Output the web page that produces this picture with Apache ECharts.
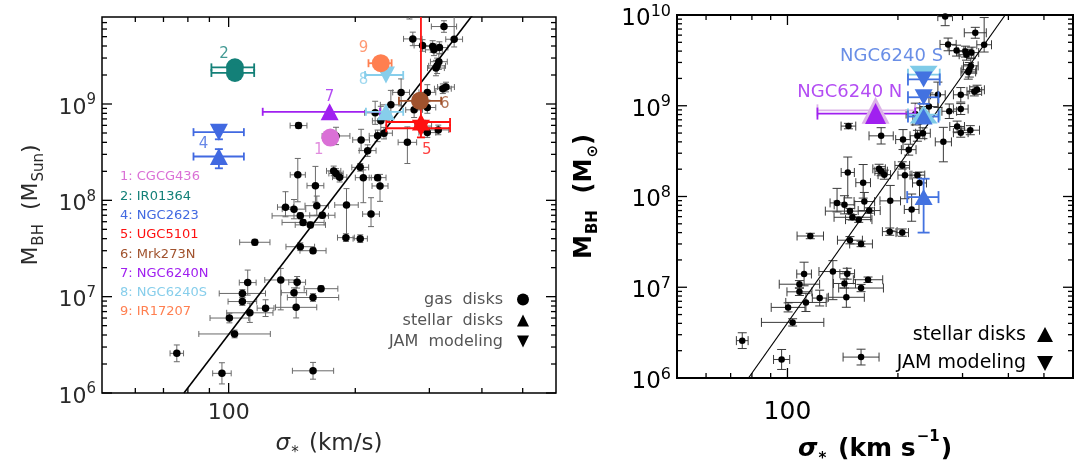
<!DOCTYPE html>
<html>
<head>
<meta charset="utf-8">
<script src="https://cdn.jsdelivr.net/npm/echarts@6.0.0/dist/echarts.min.js"></script>
<style>
html,body{margin:0;padding:0;background:#ffffff;}
#chart{width:1083px;height:472px;}
</style>
</head>
<body>
<div id="chart"></div>
<script>
// ---------------- data ----------------
// Comparison sample (drawn in both panels): sigma_* (km/s) and M_BH (Msun)
const sampleSigma = [75.3, 96.4, 158.7, 103.3, 100.4, 112.3, 122.4, 144.7, 107.8, 107.8,
  158.7, 143, 165.8, 111, 133, 145.5, 115.4, 148, 158.7, 190,
  205.5, 150.3, 156.4, 148, 167, 136.5, 143, 162, 190.6, 218,
  160.8, 146, 177.7, 180, 183.6, 209, 226, 229, 205.5, 214,
  206.5, 226, 234, 266, 146.6, 230, 223, 243, 276, 296.7,
  296.7, 315, 257, 296.7, 323, 328.6, 316, 313, 311, 274,
  289, 305.5, 317, 307.6, 343.6, 325, 269, 180, 290];
const sampleMass = [2.58e6, 1.6e6, 1.7e6, 4.1e6, 6.0e6, 6.8e6, 7.6e6, 7.75e6, 8.9e6, 1.08e7,
  9.8e6, 1.1e7, 1.21e7, 1.4e7, 1.49e7, 1.41e7, 3.67e7, 3.3e7, 3.0e7, 4.1e7,
  4.0e7, 5.9e7, 5.56e7, 6.9e7, 7.0e7, 8.5e7, 8.1e7, 8.8e7, 8.95e7, 7.2e7,
  1.42e8, 1.84e8, 2.02e8, 1.9e8, 1.74e8, 1.72e8, 1.72e8, 1.41e8, 2.2e8, 3.28e8,
  4.24e8, 4.67e8, 4.98e8, 4.0e8, 5.97e8, 6.7e8, 8.1e8, 9.8e8, 8.7e8, 9.2e8,
  5.05e8, 5.38e8, 1.32e9, 1.32e9, 1.44e9, 1.5e9, 2.75e9, 2.49e9, 2.36e9, 4.74e9,
  4.05e9, 3.95e9, 3.85e9, 3.65e9, 4.7e9, 6.37e9, 9.6e9, 4.66e8, 5.9e8];
// error sizes (dex)
const sampleSigmaErr = [0.016, 0.022, 0.049, 0.085, 0.046, 0.055, 0.02, 0.049, 0.034, 0.055,
  0.061, 0.03, 0.04, 0.02, 0.038, 0.02, 0.036, 0.034, 0.031, 0.02,
  0.017, 0.05, 0.036, 0.067, 0.03, 0.019, 0.028, 0.028, 0.028, 0.02,
  0.02, 0.018, 0.017, 0.017, 0.017, 0.019, 0.02, 0.019, 0.02, 0.02,
  0.02, 0.02, 0.02, 0.022, 0.02, 0.02, 0.025, 0.025, 0.02, 0.02,
  0.02, 0.025, 0.02, 0.02, 0.02, 0.02, 0.02, 0.02, 0.02, 0.022,
  0.02, 0.02, 0.02, 0.02, 0.02, 0.03, 0.02, 0.033, 0.02];
const sampleMassErrLo = [0.087, 0.11, 0.087, 0.04, 0.05, 0.1, 0.087, 0.11, 0.04, 0.04,
  0.04, 0.05, 0.03, 0.13, 0.31, 0.06, 0.03, 0.04, 0.03, 0.04,
  0.04, 0.03, 0.03, 0.03, 0.03, 0.1, 0.1, 0.1, 0.33, 0.13,
  0.17, 0.28, 0.05, 0.05, 0.05, 0.26, 0.03, 0.16, 0.04, 0.06,
  0.11, 0.06, 0.06, 0.22, 0.03, 0.15, 0.12, 0.15, 0.08, 0.06,
  0.05, 0.05, 0.14, 0.08, 0.05, 0.05, 0.08, 0.08, 0.08, 0.07,
  0.06, 0.06, 0.06, 0.06, 0.08, 0.06, 0.1, 0.09, 0.06];
const sampleMassErrHi = [0.087, 0.11, 0.087, 0.04, 0.05, 0.1, 0.087, 0.28, 0.04, 0.04,
  0.04, 0.05, 0.03, 0.13, 0.12, 0.06, 0.03, 0.04, 0.03, 0.04,
  0.04, 0.03, 0.03, 0.03, 0.03, 0.16, 0.1, 0.1, 0.17, 0.17,
  0.2, 0.17, 0.05, 0.05, 0.05, 0.08, 0.03, 0.12, 0.04, 0.06,
  0.11, 0.06, 0.06, 0.16, 0.03, 0.15, 0.12, 0.15, 0.08, 0.06,
  0.05, 0.05, 0.14, 0.08, 0.05, 0.05, 0.08, 0.08, 0.08, 0.07,
  0.06, 0.06, 0.06, 0.06, 0.3, 0.06, 0.12, 0.09, 0.06];

// M-sigma relation, end points
const fitSigma = [78.3, 392];
const fitMass = [1e6, 1e10];

// Left panel objects: [id, kind, sigma, M, sigmaLo, sigmaHi, Mlo, Mhi]
const leftMarkers = [
  [1, 'gas', 174.5, 4.48e8, 174.5, 174.5, 4.48e8, 4.48e8],
  [2, 'gas', 103.5, 2.4e9, 91, 115, 2.4e9, 2.4e9],
  [2, 'gas', 103.5, 2.1e9, 91, 115, 2.1e9, 2.1e9],
  [4, 'jam', 94.8, 5.1e8, 82.5, 108.7, 4.3e8, 5.9e8],
  [4, 'stellar', 94.8, 2.85e8, 82.5, 108.7, 2.15e8, 3.4e8],
  [5, 'stellar', 286.5, 6.5e8, 237, 336, 4.5e8, 1.5e10],
  [5, 'jam', 286.5, 5.6e8, 237, 336, 5.6e8, 5.6e8],
  [6, 'gas', 285, 1.08e9, 254, 320, 1.08e9, 1.08e9],
  [7, 'stellar', 173.8, 8.3e8, 120.5, 229, 8.3e8, 8.3e8],
  [8, 'jam', 236.6, 2.0e9, 211, 260, 2.0e9, 2.0e9],
  [8, 'stellar', 236.6, 8.3e8, 212, 260, 8.3e8, 8.3e8],
  [9, 'gas', 230, 2.65e9, 215, 244, 2.65e9, 2.65e9]
];
const leftObjectNames = ['1: CGCG436', '2: IR01364', '4: NGC2623', '5: UGC5101',
  '6: Mrk273N', '7: NGC6240N', '8: NGC6240S', '9: IR17207'];
const leftObjectIds = [1, 2, 4, 5, 6, 7, 8, 9];
// number labels next to the markers: [text, sigma, M]
const leftNumberLabels = [
  ['2', 97.5, 3.29e9], ['4', 87.1, 3.86e8], ['7', 173.8, 1.19e9], ['1', 163.7, 3.33e8],
  ['9', 209.2, 3.8e9], ['8', 209.2, 1.78e9], ['6', 326.6, 9.96e8], ['5', 295.8, 3.33e8]
];

// Right panel objects: [group, kind, sigma, M, sigmaLo, sigmaHi, Mlo, Mhi]
const rightMarkers = [
  ['Nhalo', 'stellar', 173.8, 8.9e8, 120.7, 223, 8.9e8, 8.9e8],
  ['N', 'stellar', 173.8, 8.2e8, 120.7, 223, 8.2e8, 8.2e8],
  ['Shalo', 'jam', 235, 2.2e9, 213, 260, 2.2e9, 2.2e9],
  ['S', 'jam', 235, 1.95e9, 213, 260, 1.95e9, 1.95e9],
  ['S', 'jam', 235, 1.24e9, 213, 258, 1.05e9, 1.45e9],
  ['Shalo', 'stellar', 235, 8.0e8, 213, 260, 8.0e8, 8.0e8],
  ['S', 'stellar', 235, 7.6e8, 213, 258, 7.6e8, 7.6e8],
  ['S', 'stellar', 235, 9.85e7, 212, 258, 4.0e7, 1.57e8]
];
const rightTextLabels = [['NGC6240 N', 147.9, 1.42e9, 'N'], ['NGC6240 S', 192.2, 3.5e9, 'S']];

// axes
const xRange = [50, 600];
const yRangeLeft = [1e6, 8e9];
const yRangeRight = [1e6, 1e10];
const xTickValues = [60, 70, 80, 90, 100, 200, 300, 400, 500];
const xMajorTicks = [100];
const yDecades = [1e6, 1e7, 1e8, 1e9, 1e10];
const yMinorSteps = [2, 3, 4, 5, 6, 7, 8, 9];

// ---------------- styling ----------------
const FONT = 'DejaVu Sans';
const objColor = {1: '#da70d6', 2: '#138078', 4: '#4169e1', 5: '#ff1010', 6: '#a0522d',
  7: '#a020f0', 8: '#87ceeb', 9: '#ff7f50'};
const rightColor = {N: '#a020f0', Nhalo: '#dcb4e8', S: '#4372e0', Shalo: '#7fcbe8'};
const rightColorKeys = ['N', 'Nhalo', 'S', 'Shalo'];
// marker sizes [w, h] for right-panel groups
const rightSize = {N: [21, 21], Nhalo: [28, 27], S: [18, 16], Shalo: [28, 18]};

function sampleRows() {
  return sampleSigma.map((s, i) => [s, sampleMass[i],
    s / Math.pow(10, sampleSigmaErr[i]), s * Math.pow(10, sampleSigmaErr[i]),
    sampleMass[i] / Math.pow(10, sampleMassErrLo[i]), sampleMass[i] * Math.pow(10, sampleMassErrHi[i]), 0]);
}

function makeErrRender(cap, lw, colorOf) {
  return function (params, api) {
    const x = api.value(0), y = api.value(1);
    const xl = api.value(2), xh = api.value(3), yl = api.value(4), yh = api.value(5);
    const st = {stroke: colorOf(api.value(6)), lineWidth: lw, fill: null};
    const ch = [];
    if (xh > xl) {
      const a = api.coord([xl, y]), b = api.coord([xh, y]);
      ch.push({type: 'line', shape: {x1: a[0], y1: a[1], x2: b[0], y2: b[1]}, style: st});
      ch.push({type: 'line', shape: {x1: a[0], y1: a[1] - cap, x2: a[0], y2: a[1] + cap}, style: st});
      ch.push({type: 'line', shape: {x1: b[0], y1: b[1] - cap, x2: b[0], y2: b[1] + cap}, style: st});
    }
    if (yh > yl) {
      const a = api.coord([x, yl]), b = api.coord([x, yh]);
      ch.push({type: 'line', shape: {x1: a[0], y1: a[1], x2: b[0], y2: b[1]}, style: st});
      ch.push({type: 'line', shape: {x1: a[0] - cap, y1: a[1], x2: a[0] + cap, y2: a[1]}, style: st});
      ch.push({type: 'line', shape: {x1: b[0] - cap, y1: b[1], x2: b[0] + cap, y2: b[1]}, style: st});
    }
    return {type: 'group', children: ch};
  };
}

function makeTickRender(dir, majorLen, minorLen, lw) {
  return function (params, api) {
    const cs = params.coordSys;
    const p = api.coord([api.value(0), api.value(1)]);
    const len = api.value(2) ? majorLen : minorLen;
    const st = {stroke: '#000', lineWidth: lw};
    if (dir === 'x') {
      return {type: 'group', children: [
        {type: 'line', shape: {x1: p[0], y1: cs.y + cs.height, x2: p[0], y2: cs.y + cs.height - len}, style: st},
        {type: 'line', shape: {x1: p[0], y1: cs.y, x2: p[0], y2: cs.y + len}, style: st}]};
    }
    return {type: 'group', children: [
      {type: 'line', shape: {x1: cs.x, y1: p[1], x2: cs.x + len, y2: p[1]}, style: st},
      {type: 'line', shape: {x1: cs.x + cs.width, y1: p[1], x2: cs.x + cs.width - len, y2: p[1]}, style: st}]};
  };
}

function xTickData(yMin) {
  return xTickValues.map(v => [v, yMin, xMajorTicks.indexOf(v) >= 0 ? 1 : 0]);
}
function yTickData(yMax) {
  const out = [];
  yDecades.forEach(d => {
    if (d <= yMax * 1.0001) out.push([xRange[0], d, 1]);
    yMinorSteps.forEach(m => { if (d * m < yMax * 0.999) out.push([xRange[0], d * m, 0]); });
  });
  return out;
}

function powLabel(v) {
  const e = Math.log10(v), r = Math.round(e);
  return Math.abs(e - r) < 1e-4 ? '{b|10}{s|' + r + '}' : '';
}
function hundredLabel(v) {
  return Math.abs(Math.log10(v) - 2) < 1e-4 ? '100' : '';
}

function markerItem(sig, m, kind, color, size) {
  return {
    value: [sig, m],
    symbol: kind === 'gas' ? 'circle' : 'triangle',
    symbolSize: size,
    symbolRotate: kind === 'jam' ? 180 : 0,
    itemStyle: {color: color, opacity: 1}
  };
}

const leftColor = '#2a2a2a';
const rightTxt = '#000';

function tok(size, color, extra) {
  return Object.assign({fontSize: size, fontFamily: FONT, color: color, lineHeight: size, verticalAlign: 'top'}, extra || {});
}

const option = {
  animation: false,
  backgroundColor: '#ffffff',
  grid: [
    {left: 102, top: 17, width: 454, height: 376, show: true, borderColor: '#000', borderWidth: 1.5, backgroundColor: 'transparent'},
    {left: 677, top: 15, width: 396, height: 376, show: true, borderColor: '#000', borderWidth: 2, backgroundColor: 'transparent'}
  ],
  xAxis: [
    {type: 'log', logBase: 10, gridIndex: 0, min: xRange[0], max: xRange[1],
      axisLine: {show: false}, axisTick: {show: false}, splitLine: {show: false}, minorTick: {show: false},
      axisLabel: {show: true, interval: 0, formatter: hundredLabel, margin: 9, fontSize: 22, fontFamily: FONT, color: leftColor,
        showMinLabel: true, showMaxLabel: true, hideOverlap: false},
      name: '{i|σ}{sub|*}{t| (km/s)}', nameLocation: 'middle', nameGap: 34,
      nameTextStyle: {fontSize: 23, fontFamily: FONT, color: leftColor,
        rich: {i: tok(23, leftColor, {fontStyle: 'italic', padding: [4, 0, 0, 0]}),
          t: tok(23, leftColor, {padding: [4, 0, 0, 0]}),
          sub: tok(15, leftColor, {padding: [17, 3, 0, 1]})}}},
    {type: 'log', logBase: 10, gridIndex: 1, min: xRange[0], max: xRange[1],
      axisLine: {show: false}, axisTick: {show: false}, splitLine: {show: false}, minorTick: {show: false},
      axisLabel: {show: true, interval: 0, formatter: hundredLabel, margin: 22, fontSize: 25, fontFamily: FONT, color: rightTxt,
        showMinLabel: true, showMaxLabel: true, hideOverlap: false},
      name: '{i|σ}{sub|*}{t| (km s}{sup|−1}{t|)}', nameLocation: 'middle', nameGap: 52,
      nameTextStyle: {fontSize: 24, fontWeight: 'bold', fontFamily: FONT, color: rightTxt,
        rich: {i: tok(25, rightTxt, {fontStyle: 'italic', fontWeight: 'bold', padding: [7, 0, 0, 0]}),
          t: tok(25, rightTxt, {fontWeight: 'bold', padding: [7, 0, 0, 0]}),
          sub: tok(15, rightTxt, {fontWeight: 'bold', padding: [22, 3, 0, 1]}),
          sup: tok(15, rightTxt, {fontWeight: 'bold', padding: [0, 1, 0, 1]})}}}
  ],
  yAxis: [
    {type: 'log', logBase: 10, gridIndex: 0, min: yRangeLeft[0], max: yRangeLeft[1],
      axisLine: {show: false}, axisTick: {show: false}, splitLine: {show: false}, minorTick: {show: false},
      axisLabel: {show: true, interval: 0, formatter: powLabel, margin: 6, fontFamily: FONT, color: leftColor,
        showMinLabel: true, showMaxLabel: true, hideOverlap: false,
        rich: {b: tok(22, leftColor, {padding: [4, 0, 4, 0]}), s: tok(15, leftColor)}},
      name: '{t|M}{sub|BH}{t|  (M}{sub|Sun}{t|)}', nameLocation: 'middle', nameRotate: 90, nameGap: 60,
      nameTextStyle: {fontSize: 22, fontFamily: FONT, color: leftColor,
        rich: {t: tok(22, leftColor), sub: tok(15, leftColor, {padding: [12, 0, 0, 1]})}}},
    {type: 'log', logBase: 10, gridIndex: 1, min: yRangeRight[0], max: yRangeRight[1],
      axisLine: {show: false}, axisTick: {show: false}, splitLine: {show: false}, minorTick: {show: false},
      axisLabel: {show: true, interval: 0, formatter: powLabel, margin: 6, fontFamily: FONT, color: rightTxt,
        showMinLabel: true, showMaxLabel: true, hideOverlap: false,
        rich: {b: tok(23, rightTxt, {padding: [4, 0, 4, 0]}), s: tok(16, rightTxt)}},
      name: '{t|M}{sub|BH}{t|  (M}{sub|⊙}{t|)}', nameLocation: 'middle', nameRotate: 90, nameGap: 80,
      nameTextStyle: {fontSize: 24, fontWeight: 'bold', fontFamily: FONT, color: rightTxt,
        rich: {t: tok(24, rightTxt, {fontWeight: 'bold'}), sub: tok(15, rightTxt, {fontWeight: 'bold', padding: [13, 0, 0, 1]})}}}
  ],
  series: []
};

const S = option.series;
[0, 1].forEach(p => {
  const yr = p === 0 ? yRangeLeft : yRangeRight;
  // black sample error bars
  S.push({type: 'custom', xAxisIndex: p, yAxisIndex: p, clip: true, z: 2,
    renderItem: makeErrRender(p === 0 ? 3 : 4.5, 1, () => p === 0 ? '#6a6a6a' : '#3a3a3a'),
    data: sampleRows(), silent: true});
  // black sample points
  S.push({type: 'scatter', xAxisIndex: p, yAxisIndex: p, clip: true, z: 3, symbol: 'circle',
    symbolSize: p === 0 ? 7.5 : 6.5, itemStyle: {color: '#000', opacity: 1},
    data: sampleSigma.map((s, i) => [s, sampleMass[i]]), silent: true});
  // fit line
  S.push({type: 'line', xAxisIndex: p, yAxisIndex: p, clip: true, z: 4, symbol: 'none',
    lineStyle: {color: '#000', width: p === 0 ? 1.6 : 1.2},
    data: fitSigma.map((s, i) => [s, fitMass[i]]), silent: true});
  // ticks
  S.push({type: 'custom', xAxisIndex: p, yAxisIndex: p, z: 9, silent: true,
    renderItem: makeTickRender('x', 10, 5, 1.3), data: xTickData(yr[0])});
  S.push({type: 'custom', xAxisIndex: p, yAxisIndex: p, z: 9, silent: true,
    renderItem: makeTickRender('y', 10, 5, 1.3), data: yTickData(yr[1])});
});

// left coloured objects
S.push({type: 'custom', xAxisIndex: 0, yAxisIndex: 0, clip: true, z: 5, silent: true,
  renderItem: makeErrRender(4, 1.8, id => objColor[id]),
  data: leftMarkers.map(r => [r[2], r[3], r[4], r[5], r[6], r[7], r[0]])});
S.push({type: 'scatter', xAxisIndex: 0, yAxisIndex: 0, clip: true, z: 6, silent: true,
  data: leftMarkers.map(r => markerItem(r[2], r[3], r[1], objColor[r[0]], r[1] === 'gas' ? 18 : [18, 17]))});
S.push({type: 'scatter', xAxisIndex: 0, yAxisIndex: 0, z: 7, silent: true, symbolSize: 1,
  itemStyle: {color: 'transparent'},
  label: {show: true, position: 'inside', formatter: '{b}', fontSize: 15, fontFamily: FONT},
  data: leftNumberLabels.map(r => ({name: r[0], value: [r[1], r[2]], label: {color: objColor[+r[0]]}}))});

// right coloured objects
S.push({type: 'custom', xAxisIndex: 1, yAxisIndex: 1, clip: true, z: 5, silent: true,
  renderItem: makeErrRender(6, 1.8, k => rightColor[rightColorKeys[k]]),
  data: rightMarkers.map(r => [r[2], r[3], r[4], r[5], r[6], r[7], rightColorKeys.indexOf(r[0])])});
S.push({type: 'scatter', xAxisIndex: 1, yAxisIndex: 1, clip: true, z: 6, silent: true,
  data: rightMarkers.map(r => markerItem(r[2], r[3], r[1], rightColor[r[0]], rightSize[r[0]]))});
S.push({type: 'scatter', xAxisIndex: 1, yAxisIndex: 1, z: 7, silent: true, symbolSize: 1,
  itemStyle: {color: 'transparent'},
  label: {show: true, position: 'inside', formatter: '{b}', fontSize: 18, fontFamily: FONT},
  data: rightTextLabels.map(r => ({name: r[0], value: [r[1], r[2]], label: {color: rightColor[r[3]]}}))});

// legends (graphic)
const G = [];
leftObjectNames.forEach((t, i) => {
  G.push({type: 'text', x: 120, y: 177 + i * 19.3, z: 20,
    style: {text: t, fill: objColor[leftObjectIds[i]], font: '13px ' + FONT, textAlign: 'left', textVerticalAlign: 'middle'}});
});
const leftLegend = [['gas  disks', 'gas'], ['stellar  disks', 'stellar'], ['JAM  modeling', 'jam']];
leftLegend.forEach((l, i) => {
  const y = 299.5 + i * 21;
  G.push({type: 'text', x: 503, y: y, z: 20,
    style: {text: l[0], fill: '#555', font: '16px ' + FONT, textAlign: 'right', textVerticalAlign: 'middle'}});
  if (l[1] === 'gas') G.push({type: 'circle', z: 20, shape: {cx: 523, cy: y, r: 6}, style: {fill: '#000'}});
  else if (l[1] === 'stellar') G.push({type: 'polygon', z: 20, shape: {points: [[523, y - 6], [529, y + 6], [517, y + 6]]}, style: {fill: '#000'}});
  else G.push({type: 'polygon', z: 20, shape: {points: [[517, y - 6], [529, y - 6], [523, y + 6]]}, style: {fill: '#000'}});
});
const rightLegend = [['stellar disks', 'stellar'], ['JAM modeling', 'jam']];
rightLegend.forEach((l, i) => {
  const y = 335 + i * 28;
  G.push({type: 'text', x: 1026, y: y, z: 20,
    style: {text: l[0], fill: '#000', font: '19px ' + FONT, textAlign: 'right', textVerticalAlign: 'middle'}});
  if (l[1] === 'stellar') G.push({type: 'polygon', z: 20, shape: {points: [[1045, y - 8], [1053, y + 7], [1037, y + 7]]}, style: {fill: '#000'}});
  else G.push({type: 'polygon', z: 20, shape: {points: [[1037, y - 7], [1053, y - 7], [1045, y + 8]]}, style: {fill: '#000'}});
});
option.graphic = G;

const chart = echarts.init(document.getElementById('chart'), null, {renderer: 'canvas'});
chart.setOption(option);
</script>
</body>
</html>
